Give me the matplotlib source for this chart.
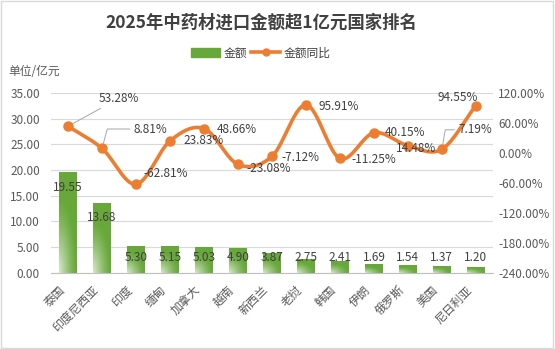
# coding: utf8
import numpy as np
import matplotlib
matplotlib.use('Agg')
import matplotlib.pyplot as plt
import matplotlib.transforms as mtrans
from matplotlib.patches import Rectangle
from matplotlib.ticker import FormatStrFormatter

plt.rcParams['font.family'] = ['Noto Sans CJK SC', 'DejaVu Sans']

countries = ['泰国', '印度尼西亚', '印度', '缅甸', '加拿大', '越南', '新西兰',
             '老挝', '韩国', '伊朗', '俄罗斯', '美国', '尼日利亚']
amount = [19.55, 13.68, 5.30, 5.15, 5.03, 4.90, 3.87, 2.75, 2.41, 1.69, 1.54, 1.37, 1.20]
yoy = [53.28, 8.81, -62.81, 23.83, 48.66, -23.08, -7.12, 95.91, -11.25, 40.15, 14.48, 7.19, 94.55]

GREEN = '#68a83a'
ORANGE = '#ed7d31'
TXT = '#404040'
TICK = '#595959'

# label offsets in points (dx, dy, ha, leader style)
lab_pos = [(22, 20, 'left', 'arc3'), (23, 14, 'left', 'angle,angleA=0,angleB=75,rad=0'),
           (5, 8, 'left', None), (10, 0, 'left', None), (9, -1, 'left', None),
           (6, -3, 'left', None), (7, -1, 'left', None), (9, -1, 'left', None),
           (8, -1, 'left', None), (8, 0, 'left', None), (6, -2, 'center', None),
           (12, 14, 'left', 'angle,angleA=0,angleB=80,rad=0'), (-13, 6, 'center', None)]


def catmull(xs, ys, n=30):
    px = np.concatenate([[2 * xs[0] - xs[1]], xs, [2 * xs[-1] - xs[-2]]])
    py = np.concatenate([[2 * ys[0] - ys[1]], ys, [2 * ys[-1] - ys[-2]]])
    outx, outy = [], []
    t = np.linspace(0, 1, n)
    for i in range(1, len(px) - 2):
        for p, out in ((px, outx), (py, outy)):
            p0, p1, p2, p3 = p[i - 1], p[i], p[i + 1], p[i + 2]
            out.extend(0.5 * (2 * p1 + (-p0 + p2) * t + (2 * p0 - 5 * p1 + 4 * p2 - p3) * t ** 2
                              + (-p0 + 3 * p1 - 3 * p2 + p3) * t ** 3))
    return np.array(outx), np.array(outy)


fig = plt.figure(figsize=(5.55, 3.49), dpi=100)
fig.patches.append(Rectangle((0.002, 0.003), 0.995, 0.994, transform=fig.transFigure,
                             fill=False, edgecolor='#d9d9d9', lw=1))
ax = fig.add_axes([0.092, 0.218, 0.796, 0.516])
ax2 = ax.twinx()

x = np.arange(len(countries))
bars = ax.bar(x, amount, 0.53, color=GREEN, zorder=2)

# soft light patch at the bottom-left of each bar
grad = np.zeros((60, 60, 4))
gy, gx = np.mgrid[0:1:60j, 0:1:60j]
dist = np.sqrt((gx * 0.8) ** 2 + (1 - gy) ** 2)
grad[..., :3] = 1.0
grad[..., 3] = np.clip(1 - dist / 0.75, 0, 1) ** 1.3 * 0.75
for b in bars:
    im = ax.imshow(grad, extent=[b.get_x(), b.get_x() + b.get_width(), 0, b.get_height()],
                   origin='upper', aspect='auto', zorder=3, interpolation='bilinear')
    im.set_clip_path(b)

for xi, v in zip(x, amount):
    ax.text(xi, max(v - 2.9, 2.9), '%.2f' % v, ha='center', va='center',
            fontsize=8.5, color=TXT, zorder=5)

ax.set_xlim(-0.5, len(countries) - 0.5)
ax.set_ylim(0, 35)
ax.set_yticks(np.arange(0, 36, 5))
ax.yaxis.set_major_formatter(FormatStrFormatter('%.2f'))
ax.grid(axis='y', color='#d9d9d9', lw=0.8, zorder=0)
ax.set_axisbelow(True)
for s in ['top', 'right', 'left']:
    ax.spines[s].set_visible(False)
    ax2.spines[s].set_visible(False)
ax.spines['bottom'].set_color('#bfbfbf')
ax2.spines['bottom'].set_visible(False)
ax.tick_params(axis='y', length=0, labelsize=8.5, labelcolor=TICK, pad=8)
ax.tick_params(axis='x', length=0, pad=4)
ax.set_xticks(x)
ax.set_xticklabels(countries, rotation=45, ha='right', va='center',
                   rotation_mode='anchor', fontsize=8.5, color=TICK)
shift = mtrans.ScaledTranslation(-4 / 72, -7 / 72, fig.dpi_scale_trans)
for lab in ax.get_xticklabels():
    lab.set_transform(lab.get_transform() + shift)

ax2.set_ylim(-240, 120)
ax2.set_yticks(np.arange(-240, 121, 60))
ax2.yaxis.set_major_formatter(FormatStrFormatter('%.2f%%'))
ax2.tick_params(axis='y', length=0, labelsize=8.5, labelcolor=TICK, pad=4)

sx, sy = catmull(x.astype(float), np.array(yoy, dtype=float))
ax2.plot(sx, sy, color=ORANGE, lw=2.6, zorder=4, solid_capstyle='round')
ax2.plot(x, yoy, 'o', color=ORANGE, ms=6.5, zorder=5)

for xi, v, (dx, dy, ha, leader) in zip(x, yoy, lab_pos):
    ax2.annotate('%.2f%%' % v, xy=(xi, v), xytext=(dx, dy), textcoords='offset points',
                 ha=ha, va='center', fontsize=8.5, color=TXT, zorder=6,
                 arrowprops=dict(arrowstyle='-', color='#a6a6a6', lw=0.7,
                                 connectionstyle=leader,
                                 shrinkA=1, shrinkB=4) if leader else None)

fig.text(0.47, 0.935, '2025年中药材进口金额超1亿元国家排名', ha='center', va='center',
         fontsize=12.5, fontweight='bold', color=TXT)
fig.text(0.015, 0.795, '单位/亿元', ha='left', va='center', fontsize=8.5, color=TICK)

hb = Rectangle((0, 0), 1, 1, color=GREEN)
hl, = ax.plot([], [], '-o', color=ORANGE, lw=2.6, ms=5)
fig.legend([hb, hl], ['金额', '金额同比'], loc='center', bbox_to_anchor=(0.47, 0.848),
           ncol=2, frameon=False, fontsize=8.5, handlelength=2.4, handleheight=0.7,
           columnspacing=0.4, handletextpad=0.3, labelcolor=TXT)

fig.savefig('out.png', dpi=100)
